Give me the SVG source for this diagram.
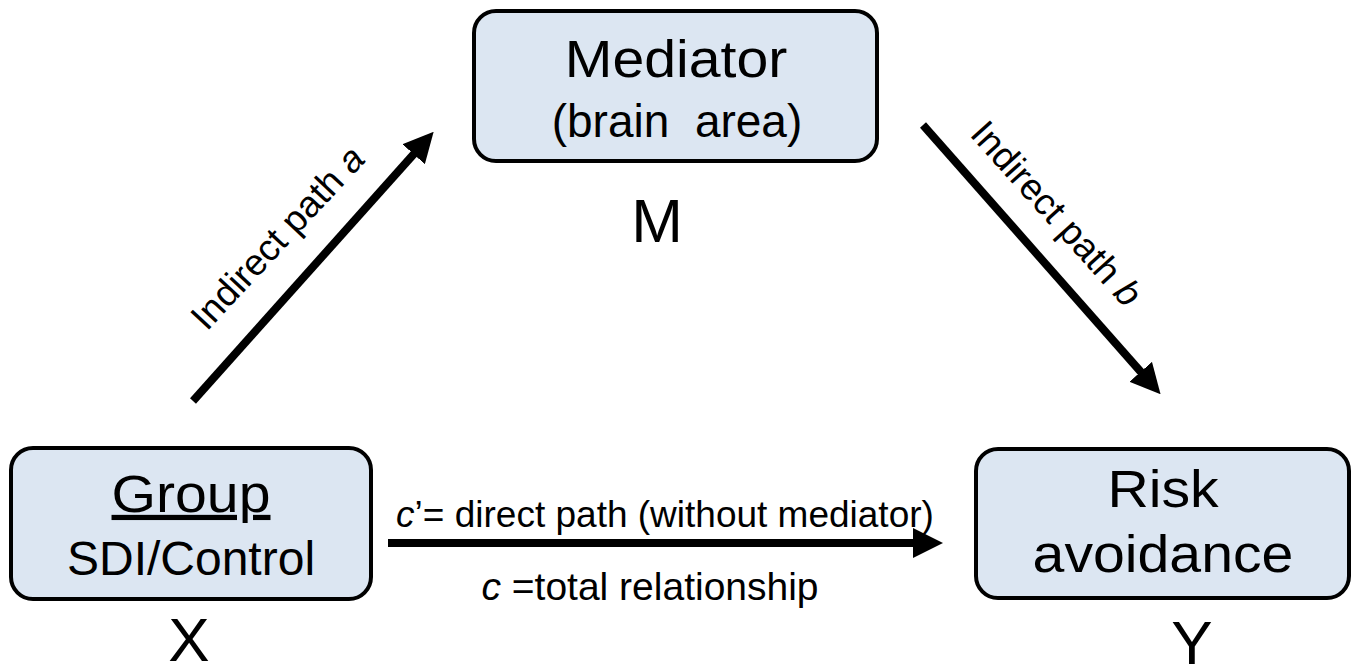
<svg xmlns="http://www.w3.org/2000/svg" width="1358" height="667" viewBox="0 0 1358 667">
<style>
.box{fill:#DCE6F2;stroke:#000;stroke-width:4}
text{font-family:"Liberation Sans",Arial,sans-serif;fill:#000}
.big{font-size:52px;text-anchor:middle}
.mid{font-size:48px;text-anchor:middle}
.var{font-size:62px;text-anchor:middle}
.lbl{font-size:37px;text-anchor:middle}
.conn{stroke:#000;stroke-width:8;fill:none;marker-end:url(#ah)}
</style>
<defs>
<marker id="ah" markerUnits="userSpaceOnUse" markerWidth="30" markerHeight="30" viewBox="0 0 30 30" refX="11" refY="15" orient="auto">
<path d="M0,0 L30,15 L0,30 z" fill="#000"/>
</marker>
</defs>
<rect width="1358" height="667" fill="#fff"/>
<g id="connectors">
<path class="conn" d="M193,401 L421,146"/>
<path class="conn" d="M923,125 L1148,380"/>
<path class="conn" d="M388,543 L924,543"/>
<text class="lbl" transform="translate(278,238) rotate(-47)" y="12">Indirect path <tspan font-style="italic">a</tspan></text>
<text class="lbl" transform="translate(1056,214) rotate(48)" y="12">Indirect path <tspan font-style="italic">b</tspan></text>
<text class="lbl" x="665" y="527"><tspan font-style="italic">c</tspan>’= direct path (without mediator)</text>
<text class="lbl" x="650" y="600" style="font-size:39px"><tspan font-style="italic">c</tspan> =total relationship</text>
</g>
<g id="node-mediator">
<rect class="box" x="474" y="11" width="403" height="150" rx="22"/>
<text class="big" transform="translate(676,77) scale(1.1,1)">Mediator</text>
<text class="mid" x="677" y="137" style="font-size:46px" xml:space="preserve">(brain  area)</text>
<text class="var" x="657" y="242">M</text>
</g>
<g id="node-group">
<rect class="box" x="11" y="448" width="360" height="151" rx="22"/>
<text class="big" transform="translate(191,512) scale(1.1,1)" text-decoration="underline">Group</text>
<text class="mid" x="191" y="575">SDI/Control</text>
<text class="var" x="189" y="661">X</text>
</g>
<g id="node-risk">
<rect class="box" x="976" y="449" width="373" height="149" rx="22"/>
<text class="big" transform="translate(1163,507) scale(1.1,1)">Risk</text>
<text class="big" transform="translate(1163,572) scale(1.1,1)">avoidance</text>
<text class="var" x="1192" y="664">Y</text>
</g>
</svg>
